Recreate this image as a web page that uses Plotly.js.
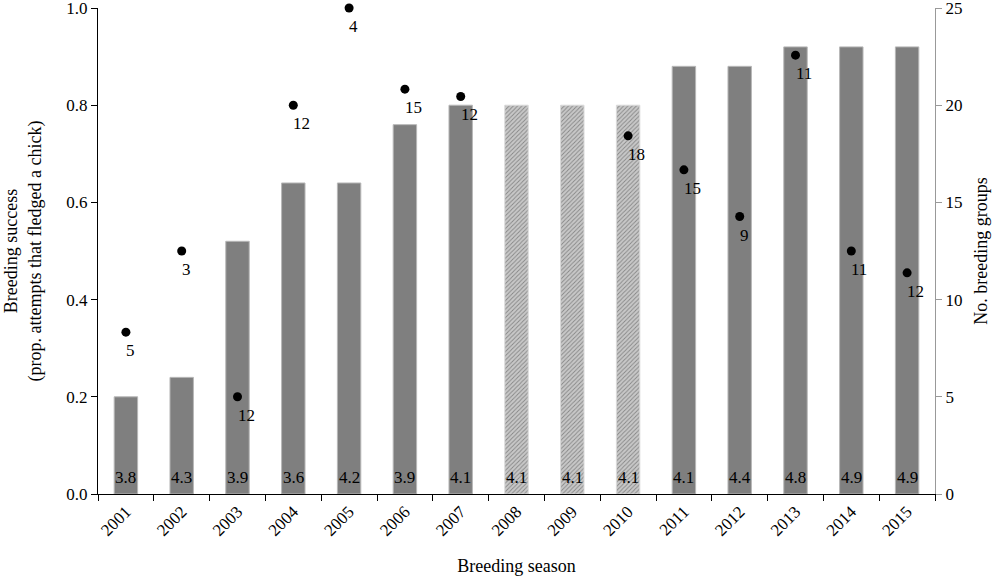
<!DOCTYPE html>
<html>
<head>
<meta charset="utf-8">
<script src="https://cdn.plot.ly/plotly-3.0.1.min.js"></script>
<style>html,body{margin:0;padding:0;background:#fff}#chart{width:993px;height:580px}</style>
</head>
<body>
<div id="chart"></div>
<script>
const years = ['2001','2002','2003','2004','2005','2006','2007','2008','2009','2010','2011','2012','2013','2014','2015'];
const breedingGroups = [5, 6, 13, 16, 16, 19, 20, 20, 20, 20, 22, 22, 23, 23, 23];
const meanGroupSize = ['3.8','4.3','3.9','3.6','4.2','3.9','4.1','4.1','4.1','4.1','4.1','4.4','4.8','4.9','4.9'];
const estimatedYears = ['2008','2009','2010'];
const successYears = ['2001','2002','2003','2004','2005','2006','2007','2010','2011','2012','2013','2014','2015'];
const breedingSuccess = [0.333, 0.5, 0.2, 0.8, 1.0, 0.833, 0.818, 0.737, 0.667, 0.571, 0.903, 0.5, 0.455];
const attempts = ['5','3','12','12','4','15','12','18','15','9','11','11','12'];

const font = "Liberation Serif, Times New Roman, serif";
const isEst = years.map(y => estimatedYears.includes(y));

// Bars on the primary axis (right side), points on the overlaying axis (left side) so they draw on top
const barTrace = {
  type: 'bar', x: years, y: breedingGroups, yaxis: 'y', width: 0.42,
  marker: {
    color: isEst.map(e => e ? '#c8c8c8' : '#7f7f7f'),
    line: {color: isEst.map(e => e ? '#dadada' : '#b8b8b8'), width: 1},
    pattern: {
      shape: isEst.map(e => e ? '/' : ''),
      fgcolor: '#a8a8a8', size: 3, solidity: 0.3, fillmode: 'overlay'
    }
  },
  hoverinfo: 'skip', showlegend: false
};

const points = {
  type: 'scatter', mode: 'markers', x: successYears, y: breedingSuccess, yaxis: 'y2',
  marker: {color: '#000', size: 9},
  cliponaxis: false, hoverinfo: 'skip', showlegend: false
};

const sizeLabels = years.map((yr, i) => ({
  x: i, y: 0, xref: 'x', yref: 'y',
  text: meanGroupSize[i], showarrow: false, xanchor: 'center', yanchor: 'bottom',
  yshift: 5,
  font: {family: font, size: 17, color: '#000'}
}));

const nLabels = successYears.map((yr, i) => ({
  x: years.indexOf(yr), y: breedingSuccess[i], xref: 'x', yref: 'y2',
  text: attempts[i], showarrow: false, xanchor: 'left', yanchor: 'top',
  xshift: -2, yshift: -7,
  font: {family: font, size: 17, color: '#000'}
}));

const layout = {
  width: 993, height: 580,
  margin: {l: 98, r: 58, t: 8, b: 86},
  paper_bgcolor: '#fff', plot_bgcolor: '#fff',
  font: {family: font, size: 17, color: '#000'},
  showlegend: false,
  xaxis: {
    type: 'category', categoryorder: 'array', categoryarray: years,
    range: [-0.5, years.length - 0.5], autorange: false,
    tickson: 'boundaries', ticks: 'outside', ticklen: 6, tickcolor: '#000',
    showline: true, linecolor: '#000', linewidth: 1,
    showgrid: false, zeroline: false, tickangle: -45,
    tickfont: {family: font, size: 17, color: '#000'},
    title: {text: 'Breeding season', font: {family: font, size: 18}, standoff: 20}
  },
  yaxis: {
    range: [0, 25.0005], autorange: false, tickvals: [0, 5, 10, 15, 20, 25], side: 'right',
    ticks: 'outside', ticklen: 6, tickcolor: '#999', ticklabeloverflow: 'allow',
    showline: true, linecolor: '#999', linewidth: 1,
    showgrid: false, zeroline: false,
    tickfont: {family: font, size: 17, color: '#000'},
    title: {text: 'No. breeding groups', font: {family: font, size: 18}, standoff: 12}
  },
  yaxis2: {
    range: [0, 1.00002], autorange: false, tickvals: [0, 0.2, 0.4, 0.6, 0.8, 1.0], tickformat: '.1f',
    overlaying: 'y', side: 'left', ticklabeloverflow: 'allow',
    ticks: 'outside', ticklen: 6, tickcolor: '#000',
    showline: true, linecolor: '#000', linewidth: 1,
    showgrid: false, zeroline: false,
    tickfont: {family: font, size: 17, color: '#000'},
    title: {text: 'Breeding success<br>(prop. attempts that fledged a chick)', font: {family: font, size: 18}, standoff: 20}
  },
  annotations: sizeLabels.concat(nLabels)
};

Plotly.newPlot('chart', [barTrace, points], layout, {displayModeBar: false, staticPlot: true});
</script>
</body>
</html>
